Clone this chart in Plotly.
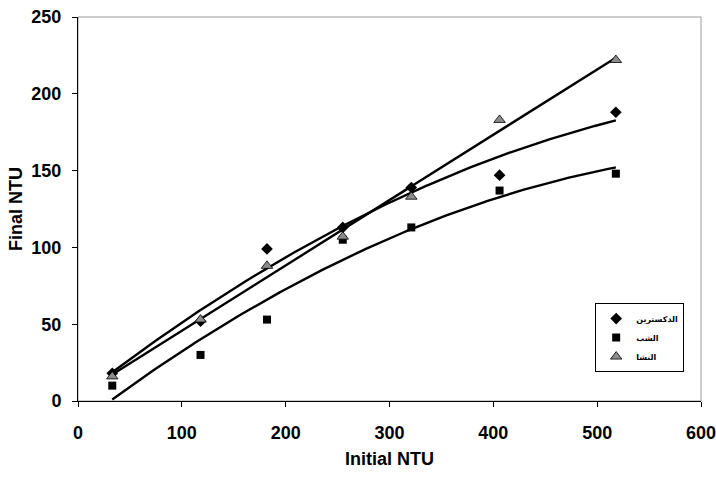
import numpy as np
import plotly.graph_objects as go

# Measured turbidity: initial NTU vs final NTU for three coagulant aids
initial_ntu = [33, 118, 182, 255, 321, 406, 518]
dextrin = [18, 52, 99, 113, 139, 147, 188]
alum = [10, 30, 53, 105, 113, 137, 148]
starch = [16, 53, 88, 107, 133, 183, 222]

series_names = ["الدكسترين", "الشب", "النشا"]
x_ticks = [0, 100, 200, 300, 400, 500, 600]
y_ticks = [0, 50, 100, 150, 200, 250]

fig = go.Figure()

# Second-order polynomial trendlines, drawn over the measured range
x_fit = np.linspace(min(initial_ntu), max(initial_ntu), 200)
for values in (dextrin, alum, starch):
    coeffs = np.polyfit(initial_ntu, values, 2)
    fig.add_trace(go.Scatter(
        x=x_fit, y=np.polyval(coeffs, x_fit), mode="lines",
        line=dict(color="black", width=2.4), showlegend=False, hoverinfo="skip",
    ))

marker_styles = [
    dict(symbol="diamond", size=9, color="black", line=dict(color="black", width=0)),
    dict(symbol="square", size=8, color="black", line=dict(color="black", width=0)),
    dict(symbol="triangle-up", size=10, color="#8c8c8c", line=dict(color="black", width=0.8)),
]
for name, values, style in zip(series_names, (dextrin, alum, starch), marker_styles):
    fig.add_trace(go.Scatter(
        x=initial_ntu, y=values, mode="markers", name=name, marker=style,
    ))

label_font = dict(family="Liberation Sans, Arial", size=18, color="black", weight="bold")
title_font = dict(family="Liberation Sans, Arial", size=18, color="black", weight="bold")

fig.update_layout(
    width=716, height=479,
    margin=dict(l=78, r=15, t=17, b=78),
    paper_bgcolor="white", plot_bgcolor="white",
    showlegend=True,
    legend=dict(
        x=0.973, y=0.255, xanchor="right", yanchor="top",
        bgcolor="white", bordercolor="black", borderwidth=1,
        font=dict(family="DejaVu Sans", size=8, color="black", weight="bold"),
        itemwidth=30, tracegroupgap=0,
    ),
    shapes=[dict(
        type="rect", xref="paper", yref="paper", x0=0, y0=0, x1=1, y1=1,
        line=dict(color="#9a9a9a", width=1), layer="below",
    )],
)
fig.update_xaxes(
    range=[0, 600], tickvals=x_ticks, showgrid=False, zeroline=False,
    showline=True, linecolor="black", linewidth=1, automargin=False,
    ticks="outside", ticklen=5, tickcolor="black", ticklabelstandoff=10,
    ticklabeloverflow="allow", tickfont=label_font,
    title=dict(text="Initial NTU", font=title_font, standoff=10),
)
fig.update_yaxes(
    range=[0, 250], tickvals=y_ticks, showgrid=False, zeroline=False,
    showline=True, linecolor="black", linewidth=1, automargin=False,
    ticks="outside", ticklen=5, tickcolor="black", ticklabelstandoff=7,
    ticklabeloverflow="allow", tickfont=label_font,
    title=dict(text="Final NTU", font=title_font, standoff=4),
)

fig.write_html("out.html")
